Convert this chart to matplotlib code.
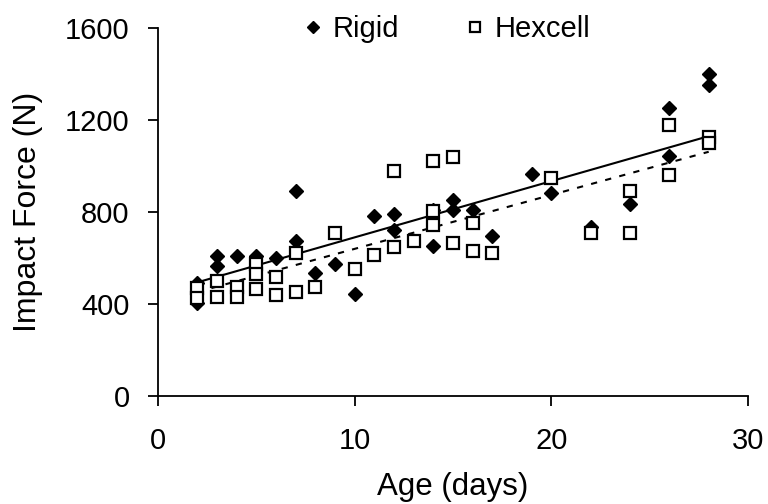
import matplotlib.pyplot as plt

plt.rcParams['font.family'] = ['Liberation Sans', 'DejaVu Sans']

# Rigid surface measurements (age in days, impact force in N)
rigid_age = [2, 2, 3, 3, 4, 5, 6, 7, 7, 8, 9, 10, 11, 12, 12, 14, 14,
             15, 15, 16, 17, 19, 20, 22, 24, 26, 26, 28, 28]
rigid_force = [493, 403, 610, 565, 610, 610, 601, 674, 891, 533, 574, 443,
               783, 791, 722, 809, 652, 852, 809, 809, 696, 965, 884, 736,
               833, 1251, 1043, 1399, 1352]

# Hexcell surface measurements
hex_age = [2, 2, 3, 3, 4, 4, 5, 5, 5, 6, 6, 7, 7, 8, 9, 10, 11, 12, 12,
           13, 14, 14, 14, 15, 15, 16, 16, 17, 20, 22, 24, 24, 26, 26, 28, 28]
hex_force = [471, 425, 501, 432, 475, 432, 574, 529, 465, 519, 439, 623,
             451, 475, 709, 552, 613, 978, 649, 675, 1022, 804, 743, 1040,
             667, 751, 632, 620, 946, 710, 893, 710, 1178, 961, 1127, 1099]

# linear trend lines (start / end)
trend_age = [2, 28]
rigid_trend = [494, 1130]
hex_trend = [452, 1062]

fig = plt.figure(figsize=(7.68, 5.04), dpi=100)
ax = fig.add_axes([0.2057, 0.2145, 0.7683, 0.7297])

ax.plot(rigid_age, rigid_force, 'D', ms=7, color='black', label='Rigid', zorder=3)
ax.plot(hex_age, hex_force, 's', ms=8, mfc='white', mec='black', mew=1.6,
        label='Hexcell', zorder=3)
ax.plot(trend_age, rigid_trend, '-', color='black', lw=1.5, zorder=2)
ax.plot(trend_age, hex_trend, color='black', lw=1.5, ls=(0, (3, 4)), zorder=2)

ax.set_xlim(0, 30)
ax.set_ylim(0, 1600)
ax.set_xticks([0, 10, 20, 30])
ax.set_yticks([0, 400, 800, 1200, 1600])
ax.spines['top'].set_visible(False)
ax.spines['right'].set_visible(False)
ax.spines['left'].set_linewidth(1.3)
ax.spines['bottom'].set_linewidth(1.3)
ax.tick_params(direction='out', length=7.5, width=1.3, labelsize=21)
ax.tick_params(axis='x', pad=15)
ax.tick_params(axis='y', pad=13)
ax.set_xlabel('Age (days)', fontsize=22.5, labelpad=12)
ax.set_ylabel('Impact Force (N)', fontsize=23, labelpad=16)

ax.legend(loc='center left', bbox_to_anchor=(298 / 768, 1 - 29 / 504),
          bbox_transform=fig.transFigure, ncol=2, frameon=False,
          fontsize=21, markerscale=0.85, handlelength=1, handletextpad=0.18,
          columnspacing=2.1, borderpad=0, borderaxespad=0)

plt.savefig('out.png', dpi=100)
